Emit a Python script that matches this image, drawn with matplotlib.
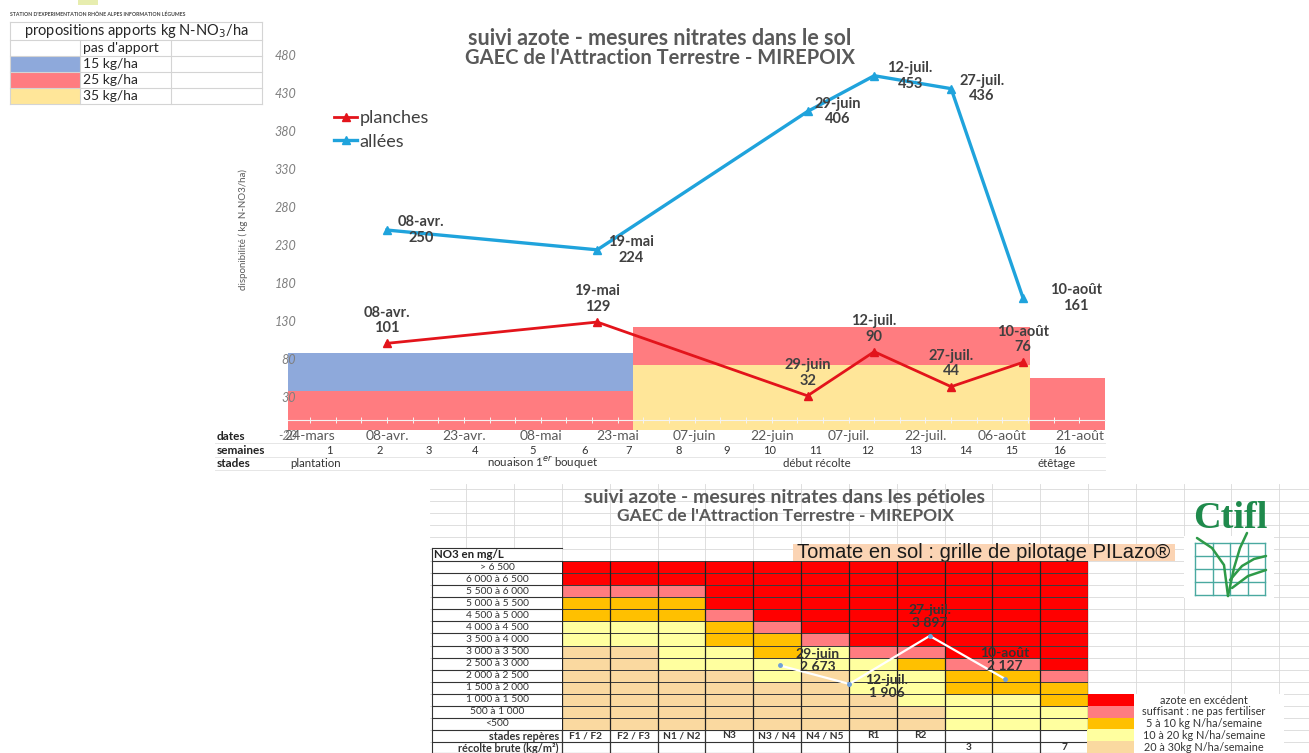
import matplotlib
matplotlib.use("Agg")
import matplotlib.pyplot as plt
import matplotlib.dates as mdates
from matplotlib.colors import ListedColormap
from matplotlib.patches import Rectangle
import numpy as np

plt.rcParams["font.family"] = ["Lato", "DejaVu Sans"]

W, H = 1309, 753

# ---------------- nitrates dans le sol ----------------
mesure_dates = ["2023-04-08", "2023-05-19", "2023-06-29", "2023-07-12", "2023-07-27", "2023-08-10"]
mesure_labels = ["08-avr.", "19-mai", "29-juin", "12-juil.", "27-juil.", "10-août"]
planches = [101, 129, 32, 90, 44, 76]
allees = [250, 224, 406, 453, 436, 161]

# zones de préconisation d'apport
y_floor = -13
zone_debut = ["2023-03-19 17:00", "2023-03-19 17:00", "2023-05-26", "2023-05-26", "2023-08-11 08:00"]
zone_fin = ["2023-05-26", "2023-05-26", "2023-08-11 08:00", "2023-08-11 08:00", "2023-08-26"]
zone_bas = [y_floor, 38, y_floor, 72, y_floor]
zone_haut = [38, 88, 72, 122, 55]
zone_dose = ["25 kg/ha", "15 kg/ha", "35 kg/ha", "25 kg/ha", "25 kg/ha"]

doses = ["pas d'apport", "15 kg/ha", "25 kg/ha", "35 kg/ha"]
dose_couleur = {"15 kg/ha": "#8EA9DB", "25 kg/ha": "#FF7C80", "35 kg/ha": "#FFE699"}

axe_dates = ["2023-03-24", "2023-04-08", "2023-04-23", "2023-05-08", "2023-05-23", "2023-06-07",
             "2023-06-22", "2023-07-07", "2023-07-22", "2023-08-06", "2023-08-21"]
axe_labels = ["24-mars", "08-avr.", "23-avr.", "08-mai", "23-mai", "07-juin",
              "22-juin", "07-juil.", "22-juil.", "06-août", "21-août"]
semaines = list(range(1, 17))
stades = ["plantation", "nouaison 1$^{er}$ bouquet", "début récolte", "étêtage"]

# ---------------- nitrates dans les pétioles ----------------
petiole_dates = ["2023-06-29", "2023-07-12", "2023-07-27", "2023-08-10"]
petiole_labels = ["29-juin", "12-juil.", "27-juil.", "10-août"]
petiole_no3 = [2673, 1906, 3897, 2127]

classes_no3 = ["> 6 500", "6 000 à 6 500", "5 500 à 6 000", "5 000 à 5 500", "4 500 à 5 000",
               "4 000 à 4 500", "3 500 à 4 000", "3 000 à 3 500", "2 500 à 3 000", "2 000 à 2 500",
               "1 500 à 2 000", "1 000 à 1 500", "500 à 1 000", "<500"]
stades_reperes = ["F1 / F2", "F2 / F3", "N1 / N2", "N3", "N3 / N4", "N4 / N5", "R1", "R2", "", "", ""]
recolte_brute = ["", "", "", "", "", "", "", "", "3", "", "7"]
# nombre de classes (du haut vers le bas) par stade, le reste en 20 à 30 kg
n_excedent = [2, 2, 2, 4, 5, 6, 7, 7, 8, 8, 9]
n_suffisant = [1, 1, 1, 1, 1, 1, 1, 1, 1, 1, 1]
n_5_10 = [2, 2, 2, 2, 2, 0, 0, 1, 2, 2, 2]
n_10_20 = [2, 2, 4, 2, 2, 2, 3, 3, 3, 3, 2]
conseils = ["azote en excédent", "suffisant : ne pas fertiliser", "5 à 10 kg N/ha/semaine",
            "10 à 20 kg N/ha/semaine", "20 à 30kg N/ha/semaine"]
conseil_couleur = ["#FF0000", "#FF7C80", "#FFC000", "#FFFF9F", "#FAD9A0"]

# ---------------------------------------------------------------
fig = plt.figure(figsize=(W / 100, H / 100), dpi=100)
fig.patch.set_facecolor("white")


def box(x0, y0, x1, y1):
    return [x0 / W, 1 - y1 / H, (x1 - x0) / W, (y1 - y0) / H]


bg = fig.add_axes([0, 0, 1, 1], zorder=0)
bg.set_xlim(0, W)
bg.set_ylim(H, 0)
bg.axis("off")

GREY = "#595959"
DARK = "#404040"

# ---------- en-tête et tableau des doses ----------
bg.text(10, 14, "STATION D'EXPERIMENTATION RHÔNE ALPES INFORMATION LÉGUMES", fontsize=3.7,
        fontweight="bold", color="#444444", va="center")
bg.add_patch(Rectangle((78, 0), 20, 5, color="#d8e27a", lw=0, alpha=0.6))
tab_x = [10, 80, 171, 262]
tab_y = [22, 40, 56, 72, 88, 104]
for i, dose in enumerate(doses[1:]):
    bg.add_patch(Rectangle((tab_x[0], tab_y[i + 2]), tab_x[1] - tab_x[0], tab_y[i + 3] - tab_y[i + 2],
                           color=dose_couleur[dose], lw=0, zorder=1))
for y in tab_y:
    bg.plot([tab_x[0], tab_x[-1]], [y, y], color="#d4d4d4", lw=0.8, zorder=2)
for x in (tab_x[0], tab_x[-1]):
    bg.plot([x, x], [tab_y[0], tab_y[-1]], color="#d4d4d4", lw=0.8, zorder=2)
for x in tab_x[1:3]:
    bg.plot([x, x], [tab_y[1], tab_y[-1]], color="#d4d4d4", lw=0.8, zorder=2)
bg.text((tab_x[0] + tab_x[-1]) / 2, 31, "propositions apports kg N-NO$_3$/ha", fontsize=10.5,
        color="#262626", ha="center", va="center")
for i, dose in enumerate(doses):
    bg.text(tab_x[1] + 3, (tab_y[i + 1] + tab_y[i + 2]) / 2, dose, fontsize=10, color="#262626",
            va="center")

# ---------- titre du graphique sol ----------
bg.text(660, 38, "suivi azote - mesures nitrates dans le sol", fontsize=15.5, fontweight="bold",
        color=GREY, ha="center", va="center")
bg.text(660, 58, "GAEC de l'Attraction Terrestre - MIREPOIX", fontsize=14.5, fontweight="bold",
        color=GREY, ha="center", va="center")

# ---------- graphique sol ----------
ax = fig.add_axes(box(288, 40, 1105, 430), zorder=2)
ax.set_facecolor("none")
ax.set_xlim(mdates.datestr2num("2023-03-19 17:00"), mdates.datestr2num("2023-08-26"))
ax.set_ylim(y_floor, 500)

for d0, d1, lo, hi, dose in zip(zone_debut, zone_fin, zone_bas, zone_haut, zone_dose):
    ax.fill_between(mdates.datestr2num([d0, d1]), lo, hi, color=dose_couleur[dose], lw=0, zorder=1)

xd = mdates.datestr2num(mesure_dates)
ax.plot(xd, planches, color="#E3141B", lw=2, marker="^", ms=6, label="planches", zorder=4)
ax.plot(xd, allees, color="#1FA3DC", lw=2.4, marker="^", ms=6, label="allées", zorder=4)

LBL = dict(fontsize=10.5, fontweight="bold", color=DARK, linespacing=1.15, ha="center",
           va="center", zorder=5)
off_allees = [34, 34, 30, 36, 31, 53]
for x, v, lab, dx in zip(xd, allees, mesure_labels, off_allees):
    ax.annotate(f"{lab}\n{v}", (x, v), xytext=(dx * 0.72, 0), textcoords="offset points", **LBL)
for x, v, lab in zip(xd, planches, mesure_labels):
    ax.annotate(f"{lab}\n{v}", (x, v), xytext=(0, 23 * 0.72), textcoords="offset points", **LBL)

for s in ("top", "right", "left"):
    ax.spines[s].set_visible(False)
ax.spines["bottom"].set_position(("data", 0))
ax.spines["bottom"].set_color("#f3f3f3")
ax.spines["bottom"].set_linewidth(0.8)
ax.set_xticks(np.arange(mdates.datestr2num("2023-03-24"), mdates.datestr2num("2023-08-26"), 5))
ax.tick_params(axis="x", colors="#f3f3f3", direction="inout", length=4, width=0.7,
               labelbottom=False)

ax.set_yticks(range(30, 481, 50))
ax.tick_params(axis="y", length=0, pad=-6, labelsize=9, labelcolor="#7f7f7f")
for t in ax.get_yticklabels():
    t.set_fontstyle("italic")
ax.set_ylabel("disponibilité ( kg N-NO3/ha)", fontsize=7, color=GREY)
ax.yaxis.set_label_coords(-40 / 817, 0.513)

sec = ax.secondary_xaxis(0)
sec.set_xticks(mdates.datestr2num(axe_dates), axe_labels)
sec.tick_params(length=0, pad=0.3, labelsize=10, labelcolor=GREY)
sec.spines["bottom"].set_visible(False)

leg = ax.legend(loc="upper left", bbox_to_anchor=(334 / W, 1 - 110 / H),
                bbox_transform=fig.transFigure, frameon=False, fontsize=13,
                handlelength=1.3, handletextpad=0.1, borderpad=0, labelspacing=0.42,
                borderaxespad=0)
for t in leg.get_texts():
    t.set_color(DARK)

bg.text(297, 436, "-20", fontsize=9, fontstyle="italic", color="#7f7f7f", ha="right", va="center")

# ---------- lignes dates / semaines / stades ----------
for y in (443, 457, 470):
    bg.plot([215, 1105], [y, y], color="#e6e6e6", lw=0.7)
for y, lab in zip((436, 450, 463), ("dates", "semaines", "stades")):
    bg.text(217, y, lab, fontsize=8.5, fontweight="bold", color="#222222", va="center")
sem_x = [333, 383, 432, 478, 536, 588, 632, 682, 730, 776, 822, 874, 922, 972, 1018, 1066]
for x, s in zip(sem_x, semaines):
    bg.text(x, 450, str(s), fontsize=8, color="#333333", ha="right", va="center")
for x, s in zip((290, 487, 783, 1038), stades):
    bg.text(x, 463, s, fontsize=8.3, color="#333333", va="center")

# ---------- feuille pétioles : quadrillage ----------
ROW_H = (730 - 561) / 14
COL_W = (1088 - 562) / 11
for k in range(-6, 17):
    y = 561 + k * ROW_H
    if 484 < y < 754:
        bg.plot([430, W], [y, y], color="#d9d9d9", lw=0.6, zorder=1)
for k in range(-3, 16):
    x = 562 + k * COL_W
    if 429 < x <= W:
        bg.plot([x, x], [484, H], color="#d9d9d9", lw=0.6, zorder=1)

bg.text(785, 497, "suivi azote - mesures nitrates dans les pétioles", fontsize=14,
        fontweight="bold", color=GREY, ha="center", va="center", zorder=4)
bg.text(785, 516, "GAEC de l'Attraction Terrestre - MIREPOIX", fontsize=12.5,
        fontweight="bold", color=GREY, ha="center", va="center", zorder=4)

bg.add_patch(Rectangle((793, 544), 382, 17, color="#FBD4B4", lw=0, zorder=3))
bg.text(797, 552.5, "Tomate en sol : grille de pilotage PILazo®", family="Liberation Sans",
        fontsize=14.5, color="#1a1a1a", va="center", zorder=4)

# colonne des libellés
bg.add_patch(Rectangle((432, 548), 130, 205, color="white", lw=0, zorder=2))
bg.add_patch(Rectangle((562, 730), 526, 23, color="white", lw=0, zorder=2))
bg.text(434, 554.5, "NO3 en mg/L", fontsize=8.3, fontweight="bold", color="#222222",
        va="center", zorder=4)
row_edges = [548] + [561 + k * ROW_H for k in range(15)] + [742, 753]
for y in row_edges:
    bg.plot([432, 562], [y, y], color="#333333", lw=0.8, zorder=3)
bg.plot([432, 432], [548, 753], color="#333333", lw=0.8, zorder=3)
for i, lab in enumerate(classes_no3):
    bg.text(497, 561 + (i + 0.5) * ROW_H, lab, fontsize=7.4, color="#333333", ha="center",
            va="center", zorder=4)
bg.text(559, 736, "stades repères", fontsize=7.8, fontweight="bold", color="#333333",
        ha="right", va="center", zorder=4)
bg.text(559, 748, "récolte brute (kg/m²)", fontsize=7.8, fontweight="bold", color="#333333",
        ha="right", va="center", zorder=4)
for y in (730, 742, 753):
    bg.plot([562, 1088], [y, y], color="#333333", lw=0.8, zorder=3)
for k in range(12):
    x = 562 + k * COL_W
    bg.plot([x, x], [730, 753], color="#333333", lw=0.9, zorder=3)
for k, (st, rec) in enumerate(zip(stades_reperes, recolte_brute)):
    xc = 562 + (k + 0.5) * COL_W
    bg.text(xc, 736, st, fontsize=7.3, fontweight="bold", color="#333333", ha="center",
            va="center", zorder=4)
    bg.text(xc, 748, rec, fontsize=7.3, fontweight="bold", color="#333333", ha="center",
            va="center", zorder=4)

# légende des conseils
for i, (c, lab) in enumerate(zip(conseil_couleur, conseils)):
    y0 = 694 + i * 11.8
    bg.add_patch(Rectangle((1087, y0), 47, 11.8, color=c, lw=0, zorder=3))
    bg.add_patch(Rectangle((1134, y0), 150, 11.8, color="white", lw=0, zorder=2))
    bg.text(1204, y0 + 6, lab, fontsize=7.8, color="#333333", ha="center", va="center", zorder=4)

# logo Ctifl
bg.text(1230, 519, "Ctifl", family="Liberation Serif", fontweight="bold", fontsize=27.5,
        color="#1f8a4c", ha="center", va="center", zorder=4)
bg.add_patch(Rectangle((1184, 536), 90, 62, color="white", lw=0, zorder=2))
for k in range(5):
    bg.plot([1195 + k * 17.5, 1195 + k * 17.5], [543, 595], color="#4aa9a0", lw=1, zorder=3)
    bg.plot([1195, 1265], [543 + k * 13, 543 + k * 13], color="#4aa9a0", lw=1, zorder=3)
for xs, ys in (([1228, 1224, 1212, 1197], [596, 565, 548, 538]),
               ([1228, 1234, 1240, 1247], [596, 568, 548, 533]),
               ([1230, 1242, 1254, 1266], [580, 566, 559, 556]),
               ([1232, 1248, 1266], [588, 576, 570])):
    bg.plot(xs, ys, color="#2e9a48", lw=1.8, zorder=4, solid_capstyle="round")

# ---------- grille PILazo ----------
gx = fig.add_axes(box(562, 561, 1088, 730), zorder=2)
codes = []
for r, s, o, j in zip(n_excedent, n_suffisant, n_5_10, n_10_20):
    col = [0] * r + [1] * s + [2] * o + [3] * j
    codes.append(col + [4] * (len(classes_no3) - len(col)))
M = np.array(codes).T[::-1]
gx.pcolormesh(np.arange(len(stades_reperes) + 1), np.arange(0, 7001, 500), M,
              cmap=ListedColormap(conseil_couleur), vmin=-0.5, vmax=4.5,
              edgecolors="#3c3c3c", linewidth=0.5)
gx.vlines(np.arange(len(stades_reperes) + 1), 0, 7000, color="#202020", lw=0.9)
gx.set_xlim(0, len(stades_reperes))
gx.set_ylim(0, 7000)
gx.axis("off")

pt = gx.twiny()
pt.set_xlim(mdates.datestr2num("2023-05-19 07:00"), mdates.datestr2num("2023-08-25 14:00"))
pt.set_ylim(0, 7000)
xp = mdates.datestr2num(petiole_dates)
pt.plot(xp, petiole_no3, color="white", lw=1.6, marker="o", ms=2.5, mfc="#6f9fd8",
        mec="#6f9fd8", zorder=4)
pet_off = [(38, 5), (37, -3), (0, 19), (0, 19)]
for x, v, lab, (dx, dy) in zip(xp, petiole_no3, petiole_labels, pet_off):
    txt = f"{v:,}".replace(",", " ")
    pt.annotate(f"{lab}\n{txt}", (x, v), xytext=(dx * 0.72, dy * 0.72),
                textcoords="offset points", ha="center", va="center", fontsize=10,
                fontweight="bold", color="#333333", linespacing=1.1, zorder=5)
pt.axis("off")

fig.savefig("out.png", dpi=100, facecolor="white")
